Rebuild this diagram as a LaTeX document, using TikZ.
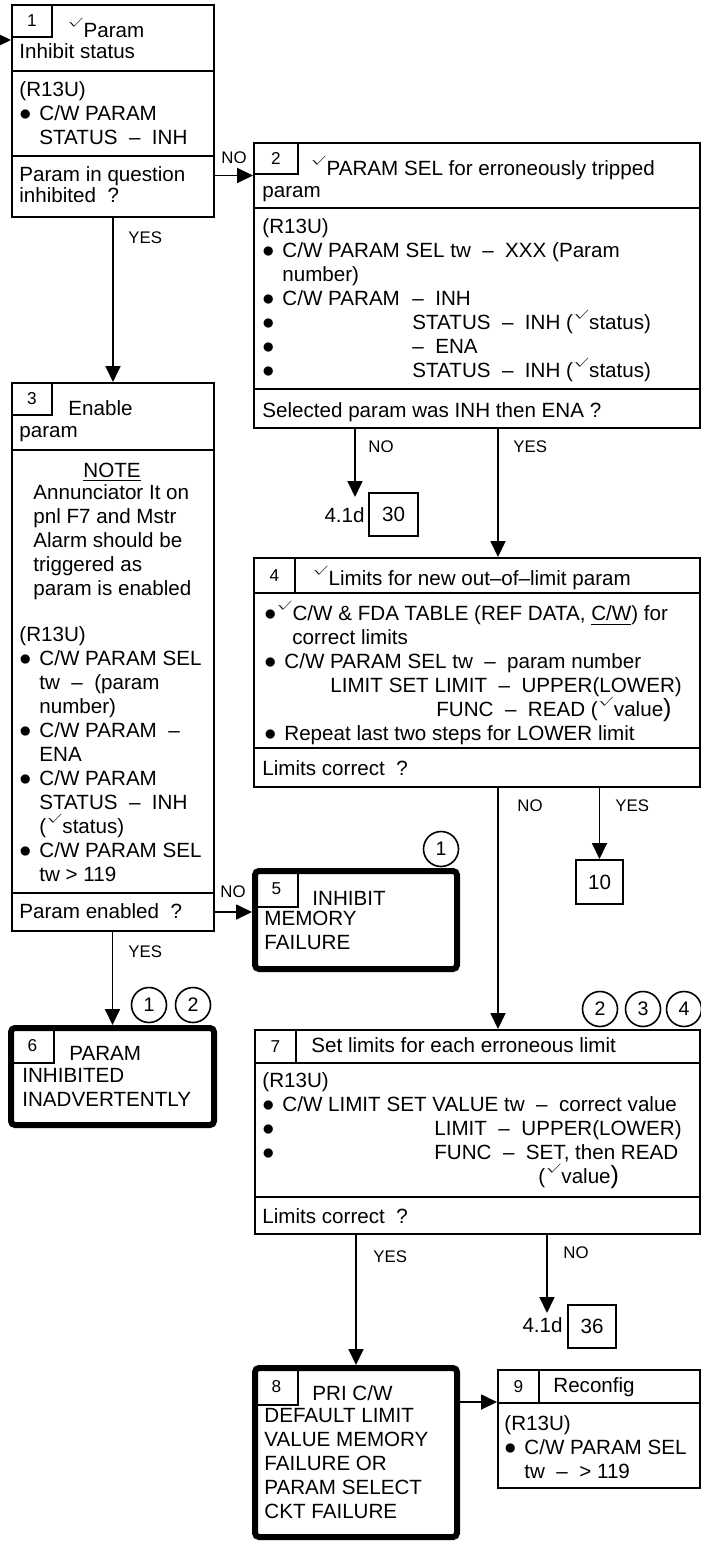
\documentclass[tikz,border=0pt]{standalone}
\usepackage{fontspec}
\setmainfont{Liberation Sans}
\usetikzlibrary{arrows.meta,fit}
\newcommand{\mf}{\fontsize{10.3}{12}\selectfont}
\newcommand{\numf}{\fontsize{8.6}{10}\selectfont}
\newcommand{\lblf}{\fontsize{8.4}{10}\selectfont}
\newcommand{\chk}{\raisebox{6.4pt}{\scalebox{.9}[.45]{$\surd$}}\kern.6pt}
\newcommand{\blt}{\makebox[10pt][l]{\scalebox{1.2}{$\bullet$}}}
\newcommand{\dd}{\ \ –\ \ }
\newcommand{\bigpar}{{\fontsize{12.5}{12}\selectfont)}}

\begin{document}
\begin{tikzpicture}[x=0.5pt,y=-0.5pt,font=\mf,>={Triangle[length=8pt,width=7.5pt]},
 sec/.style={draw,line width=1pt,inner sep=0pt,fit={#1}},
 heavy/.style={draw,line width=3pt,rounded corners=2pt,inner sep=0pt,fit={#1}},
 txt/.style={anchor=north west,inner sep=0pt,align=left,execute at begin node=\strut},
 lab/.style={font=\lblf,inner sep=0pt},
 circ/.style={circle,draw,line width=.8pt,minimum size=17.5pt,inner sep=0pt,font=\fontsize{9.8}{10}\selectfont},
 arr/.style={->,line width=.9pt}]
\useasboundingbox (0,0) rectangle (701,1542);
\node[sec={(12,5) (214,71)}] (b1h) {};
\node[sec={(12,71) (214,156)}] (b1b) {};
\node[sec={(12,156) (214,217)}] (b1q) {};
\node[sec={(12,5) (52,37)},label={[font=\numf]center:1}] (n1) {};
\node[txt] (t1a) at (67,18) {\chk Param};
\node[txt] (t1b) at (19,41) {Inhibit status};
\node[txt] (t1c) at (19,81) {(R13U)\\\blt C/W PARAM\\\hspace*{10pt}STATUS\dd INH};
\node[txt] (t1d) at (19,166) {Param in question\\[-1.5pt]inhibited\ \ ?};
\node[sec={(254,143) (700,208)}] (b2h) {};
\node[sec={(254,208) (700,389)}] (b2b) {};
\node[sec={(254,389) (700,428)}] (b2q) {};
\node[sec={(254,143) (298,174)},label={[font=\numf]center:2}] (n2) {};
\node[txt] (t2a) at (310,156) {\chk PARAM SEL for erroneously tripped};
\node[txt] (t2b) at (262,180) {param};
\node[txt] (t2c) at (262,218) {(R13U)\\
 \blt C/W PARAM SEL tw\dd XXX (Param\\
 \hspace*{10pt}number)\\
 \blt\makebox[65pt][l]{C/W PARAM}–\ \ INH\\
 \blt\hspace*{65pt}STATUS\dd INH (\chk status)\\
 \blt\hspace*{65pt}–\ \ ENA\\
 \blt\hspace*{65pt}STATUS\dd INH (\chk status)};
\node[txt] (t2d) at (262,400) {Selected param was INH then ENA ?};
\node[sec={(12,383) (214,450)}] (b3h) {};
\node[sec={(12,450) (214,893)}] (b3b) {};
\node[sec={(12,893) (214,931)}] (b3q) {};
\node[sec={(12,383) (52,415)},label={[font=\numf]center:3}] (n3) {};
\node[txt] (t3a) at (68,398) {Enable};
\node[txt] (t3b) at (19,420) {param};
\node[txt,anchor=north] (t3c) at (112,460) {\underline{NOTE}};
\node[txt] (t3d) at (33,484) {Annunciator It on\\pnl F7 and Mstr\\Alarm should be\\triggered as\\param is enabled};
\node[txt] (t3e) at (19,626) {(R13U)\\
 \blt C/W PARAM SEL\\
 \hspace*{10pt}tw\dd (param\\
 \hspace*{10pt}number)\\
 \blt C/W PARAM\ \ –\\
 \hspace*{10pt}ENA\\
 \blt C/W PARAM\\
 \hspace*{10pt}STATUS\dd INH\\
 \hspace*{10pt}(\chk status)\\
 \blt C/W PARAM SEL\\
 \hspace*{10pt}tw > 119};
\node[txt] (t3f) at (19,901) {Param enabled\ \ ?};
\node[sec={(254,558) (700,593)}] (b4h) {};
\node[sec={(254,593) (700,748)}] (b4b) {};
\node[sec={(254,748) (700,787)}] (b4q) {};
\node[sec={(254,558) (295,593)},label={[font=\numf]center:4}] (n4) {};
\node[txt] (t4a) at (312,566) {\chk Limits for new out–of–limit param};
\node[txt] (t4b) at (264,601) {\scalebox{1.2}{$\bullet$}\chk C/W \& FDA TABLE (REF DATA, \underline{C/W}) for\\
 \hspace*{14pt}correct limits\\
 \blt C/W PARAM SEL tw\dd param number\\
 \hspace*{33pt}LIMIT SET LIMIT\dd UPPER(LOWER)\\
 \hspace*{86pt}FUNC\dd READ (\chk value\bigpar\\
 \blt Repeat last two steps for LOWER limit};
\node[txt] (t4c) at (262,758) {Limits correct\ \ ?};
\node[heavy={(255,871) (457,969)}] (b5) {};
\node[sec={(255,871) (298,907)},label={[font=\numf]center:5}] (n5) {};
\node[txt] (t5a) at (312,888) {INHIBIT};
\node[txt] (t5b) at (264,911) {MEMORY\\FAILURE};
\node[heavy={(11,1028) (214,1125)}] (b6) {};
\node[sec={(11,1028) (54,1063)},label={[font=\numf]center:6}] (n6) {};
\node[txt] (t6a) at (69,1043) {PARAM};
\node[txt] (t6b) at (22,1068) {INHIBITED\\INADVERTENTLY};
\node[sec={(255,1030) (700,1063)}] (b7h) {};
\node[sec={(255,1063) (700,1197)}] (b7b) {};
\node[sec={(255,1197) (700,1234)}] (b7q) {};
\node[sec={(255,1030) (296,1063)},label={[font=\numf]center:7}] (n7) {};
\node[txt] (t7a) at (311,1035) {Set limits for each erroneous limit};
\node[txt] (t7b) at (262,1072) {(R13U)\\
 \blt C/W LIMIT SET VALUE tw\dd correct value\\
 \blt\hspace*{76pt}LIMIT\dd UPPER(LOWER)\\
 \blt\hspace*{76pt}FUNC\dd SET, then READ\\
 \hspace*{138pt}(\chk value\bigpar};
\node[txt] (t7c) at (262,1206) {Limits correct\ \ ?};
\node[heavy={(255,1368) (457,1537)}] (b8) {};
\node[sec={(255,1368) (298,1405)},label={[font=\numf]center:8}] (n8) {};
\node[txt] (t8a) at (312,1383) {PRI C/W};
\node[txt] (t8b) at (264,1408) {DEFAULT LIMIT\\VALUE MEMORY\\FAILURE OR\\PARAM SELECT\\CKT FAILURE};
\node[sec={(498,1370) (700,1403)}] (b9h) {};
\node[sec={(498,1403) (700,1488)}] (b9b) {};
\node[sec={(498,1370) (539,1403)},label={[font=\numf]center:9}] (n9) {};
\node[txt] (t9a) at (553,1375) {Reconfig};
\node[txt] (t9b) at (504,1415) {(R13U)\\\blt C/W PARAM SEL\\\hspace*{10pt}tw\dd > 119};
\node[sec={(576,860) (623,904)},label={center:10}] (t10) {};
\node[sec={(369,493) (418,536)},label={center:30}] (t30) {};
\node[sec={(568,1305) (616,1348)},label={center:36}] (t36) {};
\node[anchor=base east,inner sep=0pt] (r30) at (365,522) {4.1d};
\node[anchor=base east,inner sep=0pt] (r36) at (563,1332) {4.1d};
\node[circ] (c5) at (441,849) {1};
\node[circ] (c6a) at (149,1005) {1};
\node[circ] (c6b) at (193,1005) {2};
\node[circ] (c7a) at (600,1009) {2};
\node[circ] (c7b) at (643,1009) {3};
\node[circ] (c7c) at (684,1009) {4};
\node[lab] (l1n) at (234,158) {NO};
\node[lab,anchor=west] (l1y) at (128,238) {YES};
\node[lab,anchor=west] (l2n) at (368,447) {NO};
\node[lab,anchor=west] (l2y) at (513,447) {YES};
\node[lab] (l3n) at (233,892) {NO};
\node[lab,anchor=west] (l3y) at (128,952) {YES};
\node[lab,anchor=west] (l4n) at (517,806) {NO};
\node[lab,anchor=west] (l4y) at (615,806) {YES};
\node[lab,anchor=west] (l7y) at (373,1257) {YES};
\node[lab,anchor=west] (l7n) at (563,1253) {NO};
\coordinate (in1) at (0,40);
\coordinate (j2) at (498,0);
\coordinate (c30) at (355,497);
\coordinate (c36) at (547,1313);
\draw[arr] (in1) -- (in1 -| b1h.west);
\draw[arr] (b1q.east |- b2h.west) -- (b2h.west);
\draw[arr] (b3q.east) -- (b3q.east -| b5.west);
\draw[arr] (b9b.north west -| b8.east) -- (b9b.north west);
\foreach \a/\b in {b1q/b3h,b3q/b6,b4q/t10,b7q/b8}{\draw[arr] (\a.south -| \b.north) -- (\b.north);}
\draw[arr] (b2q.south -| j2) -- (b4h.north -| j2);
\draw[arr] (b4q.south -| j2) -- (b7h.north -| j2);
\draw[arr] (b2q.south -| c30) -- (c30);
\draw[arr] (b7q.south -| c36) -- (c36);
\end{tikzpicture}
\end{document}
